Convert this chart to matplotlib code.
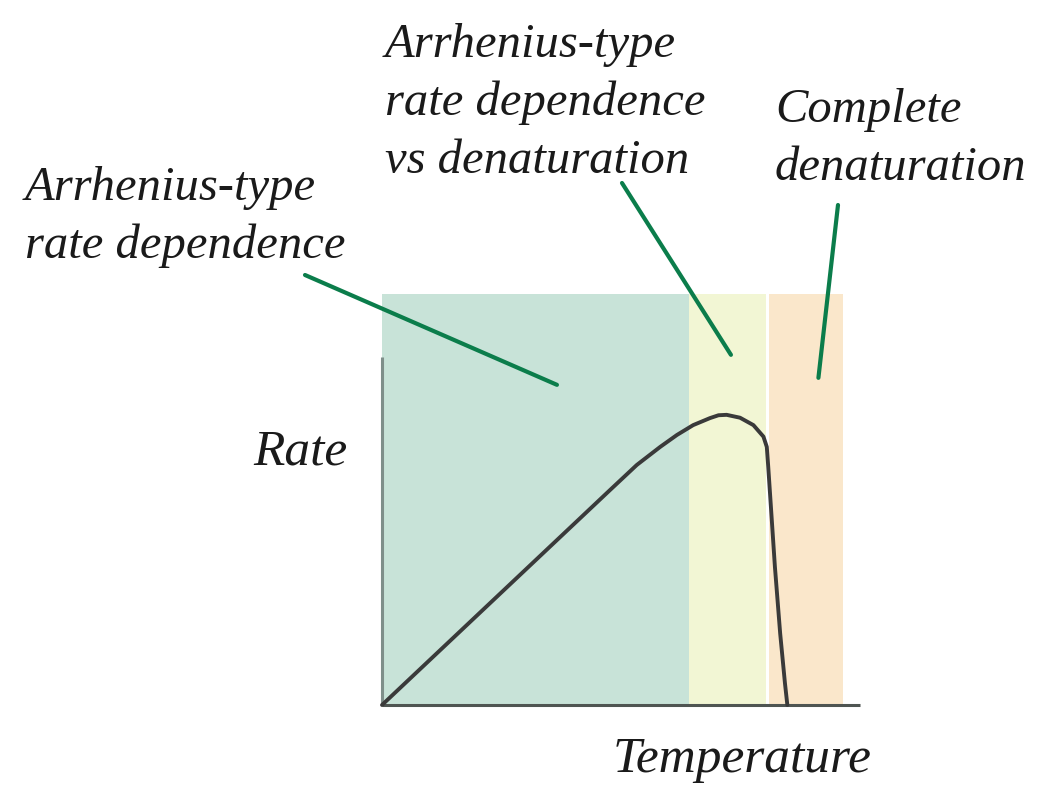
import numpy as np
import matplotlib.pyplot as plt

# temperature / rate curve (arbitrary units 0-100)
temp = [0, 47.7, 53.3, 58.2, 61.7, 65.1, 68.6, 70.4, 72.1, 74.9,
        77.7, 79.8, 80.5, 80.8, 81.5, 82.2, 83.3, 84.3, 84.8]
rate = [0, 52.3, 58.4, 62.8, 65.7, 68.1, 69.8, 70.5, 70.6, 69.9,
        68.1, 65.3, 62.8, 58.0, 45.8, 33.6, 17.4, 5.3, 0]

# shaded temperature regimes
region_names = ["Arrhenius-type\nrate dependence",
                "Arrhenius-type\nrate dependence\nvs denaturation",
                "Complete\ndenaturation"]
region_start = [0, 64.2, 81.0]
region_end = [64.2, 80.3, 96.4]
region_colors = ["#c8e3d8", "#f2f6d4", "#fae7cb"]

# where each leader line touches its region (data units)
pointer_x = [36.6, 73.0, 91.3]
pointer_y = [77.9, 85.2, 79.6]

W, H = 1060, 790
fig = plt.figure(figsize=(W / 100, H / 100), dpi=100)
ax = fig.add_axes([382 / W, 85 / H, 478 / W, 411 / H])
ax.set_xlim(0, 100)
ax.set_ylim(0, 100)
ax.axis("off")

for s, e, c in zip(region_start, region_end, region_colors):
    ax.axvspan(s, e, color=c, lw=0, zorder=0)

# axes drawn by hand like the textbook figure
ax.plot([0, 0], [0, 84.7], color="#7f8f8a", lw=2.2, solid_capstyle="butt",
        clip_on=False, zorder=2)
ax.plot([0, 100], [0, 0], color="#4f5552", lw=2.2, solid_capstyle="butt",
        clip_on=False, zorder=2)

ax.plot(temp, rate, color="#3a3a3a", lw=2.8, solid_joinstyle="round",
        solid_capstyle="round", clip_on=False, zorder=3)

font = dict(family="Liberation Serif", style="italic", size=35, color="#1a1a1a")

# label anchor: left x and baseline of the last line, in pixels
label_px = [(25, 258), (385, 173), (775, 180)]
line_start_px = [(305, 275), (622, 183), (838, 205)]

for name, (lx, ly), (sx, sy), px, py in zip(region_names, label_px, line_start_px, pointer_x, pointer_y):
    fig.text(lx / W, 1 - ly / H, name, ha="left", va="baseline", linespacing=1.4, **font)
    ax.annotate("", xy=(px, py), xycoords="data",
                xytext=(sx / W, 1 - sy / H), textcoords="figure fraction",
                arrowprops=dict(arrowstyle="-", color="#0b7d4b", lw=3,
                                shrinkA=0, shrinkB=0), zorder=4)

font["size"] = 37
fig.text(300 / W, 1 - 452 / H, "Rate", ha="center", va="center", **font)
fig.text(742 / W, 1 - 760 / H, "Temperature", ha="center", va="center", **font)

fig.savefig("out.png", dpi=100)
